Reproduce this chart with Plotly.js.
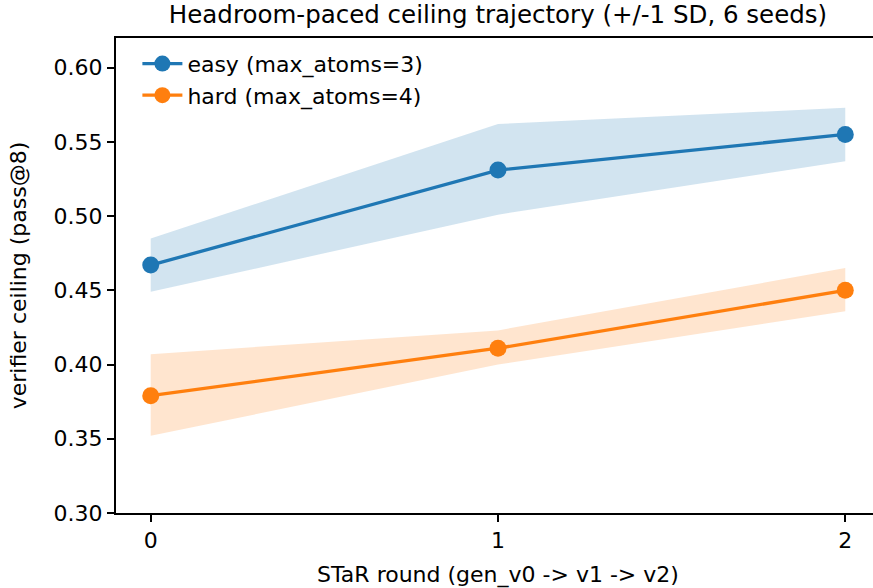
<!DOCTYPE html>
<html><head><meta charset="utf-8">
<script src="https://cdn.plot.ly/plotly-3.0.1.min.js"></script>
<style>html,body{margin:0;padding:0;overflow:hidden;background:#fff}#chart{width:880px;height:588px}</style>
</head><body><div id="chart"></div>
<script>
const rounds = [0, 1, 2];
const easyMean = [0.467, 0.531, 0.555];
const easyUpper = [0.485, 0.562, 0.573];
const easyLower = [0.449, 0.501, 0.537];
const hardMean = [0.379, 0.411, 0.450];
const hardUpper = [0.407, 0.423, 0.465];
const hardLower = [0.352, 0.400, 0.436];
const easyName = 'easy (max_atoms=3)';
const hardName = 'hard (max_atoms=4)';
const blue = '#1f77b4', orange = '#ff7f0e';
const font = 'DejaVu Sans, sans-serif';

function band(upper, lower, color) {
  return [
    {x: rounds, y: upper, mode: 'lines', line: {width: 0, color: color}, showlegend: false, hoverinfo: 'skip'},
    {x: rounds, y: lower, mode: 'lines', line: {width: 0, color: color}, fill: 'tonexty', fillcolor: color, showlegend: false, hoverinfo: 'skip'}
  ];
}
const data = [
  ...band(easyUpper, easyLower, 'rgba(31,119,180,0.2)'),
  ...band(hardUpper, hardLower, 'rgba(255,127,14,0.2)'),
  {x: rounds, y: easyMean, name: easyName, mode: 'lines+markers', line: {color: blue, width: 3.3}, marker: {color: blue, size: 17}},
  {x: rounds, y: hardMean, name: hardName, mode: 'lines+markers', line: {color: orange, width: 3.3}, marker: {color: orange, size: 17}}
];
const layout = {
  width: 880, height: 588,
  margin: {l: 116, r: 0, t: 38, b: 75},
  paper_bgcolor: '#fff', plot_bgcolor: '#fff',
  font: {family: font, color: '#000', size: 22},
  title: {text: 'Headroom-paced ceiling trajectory (+/-1 SD, 6 seeds)', font: {size: 24.5, family: font}, x: 0.5, xref: 'paper', y: 0.99, yanchor: 'top'},
  xaxis: {
    range: [-0.1, 2.1], tickvals: rounds, ticktext: ['0','1','2'],
    showgrid: false, zeroline: false, showline: true, mirror: true, linecolor: '#000', linewidth: 2,
    ticks: 'outside', ticklen: 7, tickwidth: 2, tickcolor: '#000',
    tickfont: {size: 22},
    title: {text: 'STaR round (gen_v0 -> v1 -> v2)', font: {size: 22}, standoff: 14}
  },
  yaxis: {
    range: [0.30, 0.62], tickvals: [0.30,0.35,0.40,0.45,0.50,0.55,0.60], tickformat: '.2f',
    showgrid: false, zeroline: false, showline: true, mirror: true, linecolor: '#000', linewidth: 2,
    ticks: 'outside', ticklen: 7, tickwidth: 2, tickcolor: '#000',
    tickfont: {size: 22},
    title: {text: 'verifier ceiling (pass@8)', font: {size: 22}, standoff: 21}
  },
  legend: {x: 0.028, y: 0.99, xanchor: 'left', yanchor: 'top', bgcolor: 'rgba(255,255,255,0)', font: {size: 22}, traceorder: 'normal', itemwidth: 40, tracegroupgap: 0},
  showlegend: true
};
Plotly.newPlot('chart', data, layout, {displayModeBar: false, staticPlot: true});
</script></body></html>
